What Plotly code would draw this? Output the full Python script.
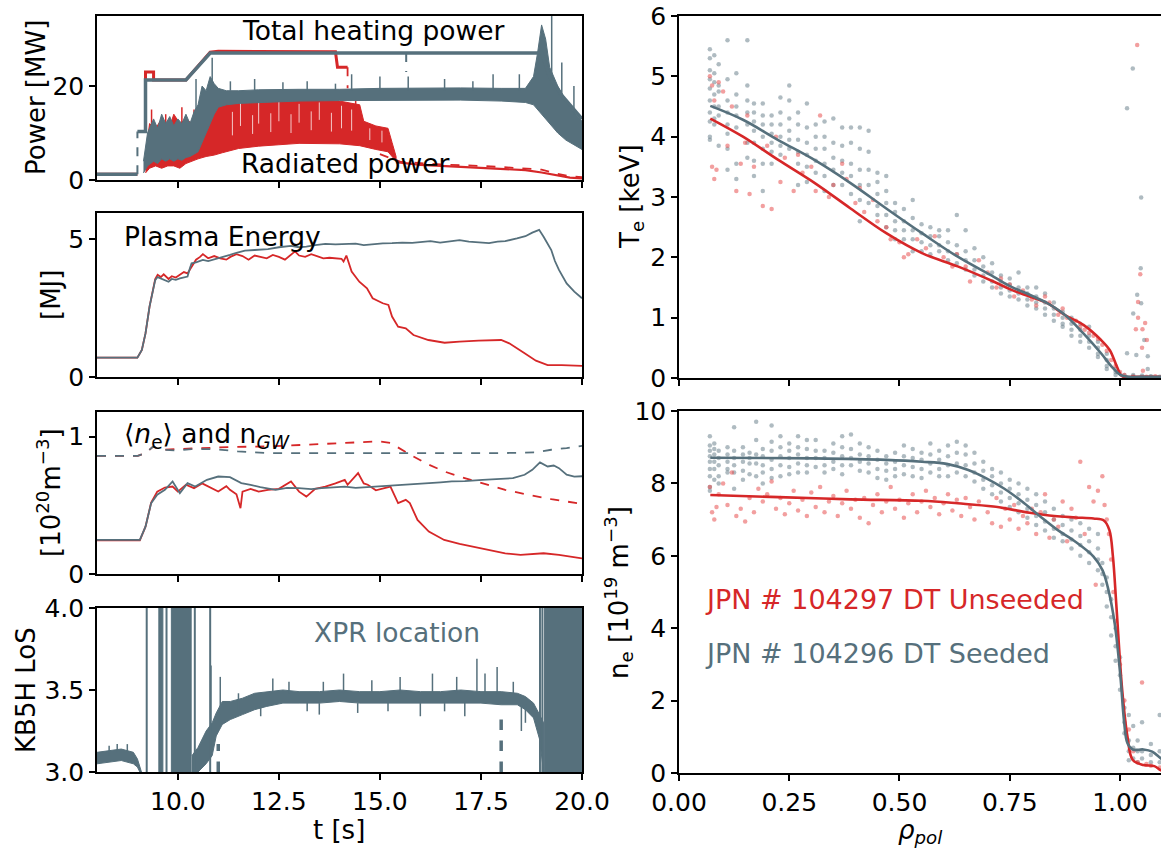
import plotly.graph_objects as go

GREY = "#56707C"
RED = "#D62728"
GREY_DOT = "rgba(110,132,142,0.55)"
RED_DOT = "rgba(232,80,80,0.55)"
FONT = "DejaVu Sans"

# ---------------- Power panel ----------------
grey_tot_t = [8.0, 9.0, None, 9.0, 9.2, 9.2, 10.2, 10.8, 18.85, 19.0, 19.2, 19.5, 20.0]
grey_tot_p = [1.2, 1.2, None, 10.3, 10.3, 21.3, 21.3, 27.0, 27.0, 27.0, 22.0, 18.0, 13.0]
grey_tot_dash_t = [9.0, 9.0, None, 15.65, 15.65]
grey_tot_dash_p = [1.2, 10.3, None, 27.0, 23.0]
red_tot_t = [8.0, 9.0, None, 9.2, 9.2, 9.4, 9.4, 10.2, 10.8, 11.0, 13.9, 13.95, 14.2]
red_tot_p = [1.2, 1.2, None, 10.3, 23.0, 23.0, 21.3, 21.3, 27.2, 27.4, 27.3, 24.0, 24.0]
red_dash_t = [14.2, 14.2, None, 15.0, 15.5, 16.5, 17.5, 18.5, 19.0, 19.4, 19.7, 20.0]
red_dash_p = [24.0, 19.5, None, 5.5, 3.9, 3.3, 3.0, 2.5, 2.2, 1.3, 0.8, 0.6]
red_rad_tail_t = [15.4, 16.0, 17.0, 18.0, 18.6, 19.0, 19.4, 19.7, 20.0]
red_rad_tail_p = [3.8, 3.2, 2.8, 2.4, 2.1, 1.6, 0.9, 0.5, 0.35]

grey_rad_t = [9.15, 9.25, 9.4, 9.5, 9.6, 9.7, 9.8, 9.9, 10.0, 10.1, 10.2, 10.3, 10.4, 10.5, 10.6, 10.7,
              10.8, 10.9, 11.0, 11.2, 11.5, 12.0, 13.0, 14.0, 15.0, 16.0, 17.0, 18.0, 18.6, 18.8, 18.9,
              19.0, 19.1, 19.2, 19.4, 19.6, 19.8, 20.0]
grey_rad_lo = [1.5, 3.0, 4.0, 3.5, 4.5, 4.0, 4.5, 4.0, 4.5, 4.2, 4.8, 5.0, 5.5, 6.0, 8.0, 10.0,
               12.0, 14.0, 15.5, 16.0, 16.3, 16.5, 16.8, 16.9, 17.0, 17.0, 17.0, 16.8, 16.5, 16.0, 15.0,
               14.0, 13.0, 12.0, 10.0, 8.5, 7.5, 6.5]
grey_rad_hi = [4.0, 10.0, 13.0, 11.0, 14.0, 12.0, 13.5, 11.5, 13.0, 12.0, 14.0, 12.0, 14.5, 16.0, 20.0, 19.0,
               22.0, 20.5, 19.5, 19.0, 19.0, 19.2, 19.3, 19.3, 19.5, 19.6, 19.6, 19.5, 19.5, 22.0, 27.0,
               33.0, 30.0, 24.0, 20.0, 17.0, 14.5, 12.5]
grey_spk_t = [10.45, 10.85, 11.3, 11.9, 12.6, 13.2, 13.9, 14.3, 15.0, 15.7, 16.6, 17.3, 17.8, 18.45, 19.25, 19.5, 19.8]
grey_spk_lo = [14, 20, 19, 19, 19, 19, 19, 19, 19, 19, 19, 19, 19, 19, 20, 17, 14]
grey_spk_hi = [21.5, 26, 21, 21.5, 20.8, 21.0, 20.5, 22.5, 22.0, 22.0, 21.5, 21.0, 22.5, 22.5, 35, 25, 20]

red_rad_t = [9.2, 9.3, 9.45, 9.6, 9.75, 9.9, 10.05, 10.2, 10.35, 10.5, 10.7, 10.9, 11.1, 11.3, 11.5,
             12.0, 12.5, 13.0, 13.5, 14.0, 14.5, 14.6, 14.9, 15.2, 15.3, 15.4]
red_rad_lo = [1.5, 2.5, 3.0, 2.5, 3.0, 3.0, 2.5, 3.5, 4.0, 4.5, 5.0, 5.3, 5.8, 6.3, 6.7,
              7.2, 7.5, 7.8, 7.8, 7.7, 7.3, 7.0, 6.5, 6.0, 5.0, 4.0]
red_rad_hi = [5.0, 12.0, 11.0, 13.0, 10.0, 14.0, 12.0, 13.0, 12.0, 14.0, 15.0, 16.0, 16.5, 17.0, 17.3,
              17.5, 17.5, 17.3, 17.0, 16.8, 16.0, 12.5, 11.5, 11.0, 8.0, 5.0]
red_spk_t = [9.35, 9.7, 10.1, 10.4, 11.8, 12.6, 13.4, 14.4]
red_spk_lo = [10, 10, 11, 12, 15, 16, 16, 14]
red_spk_hi = [15, 14, 15.5, 15, 18.2, 18.3, 18.0, 17.8]
# white streaks inside the red radiated band (gaps between the noisy samples)
red_gap_t = [11.35, 11.55, 11.85, 12.0, 12.3, 12.5, 12.8, 13.0, 13.3, 13.5, 13.8, 14.05, 14.3, 14.75, 15.05]
red_gap_lo = [9.5, 11.5, 9.8, 12.0, 10.2, 12.5, 10.0, 12.2, 10.6, 12.8, 10.3, 11.0, 10.5, 8.5, 8.0]
red_gap_hi = [14.5, 16.5, 13.8, 16.8, 14.2, 16.6, 14.0, 16.2, 14.6, 16.5, 14.3, 15.8, 15.0, 11.0, 10.5]

# ---------------- Plasma energy ----------------
w_grey_t = [8.0, 9.0, 9.11, 9.2, 9.3, 9.44, 9.5, 9.58, 9.65, 9.77, 9.85, 9.95, 10.05, 10.15, 10.24, 10.3,
            10.34, 10.45, 10.62, 10.75, 10.91, 11.1, 11.29, 11.45, 11.66, 11.9, 12.23, 12.5, 12.8, 13.0,
            13.18, 13.4, 13.65, 13.9, 14.13, 14.4, 14.6, 14.85, 15.07, 15.3, 15.55, 15.8, 16.02, 16.25,
            16.49, 16.7, 16.97, 17.2, 17.44, 17.7, 17.91, 18.1, 18.39, 18.6, 18.77, 18.94, 19.05, 19.15,
            19.24, 19.33, 19.43, 19.62, 19.81, 20.0]
w_grey = [0.70, 0.70, 0.98, 1.58, 2.55, 3.51, 3.62, 3.57, 3.50, 3.45, 3.55, 3.52, 3.57, 3.60, 3.64, 3.95,
          4.12, 4.15, 4.24, 4.20, 4.26, 4.35, 4.42, 4.50, 4.58, 4.60, 4.63, 4.70, 4.75, 4.70,
          4.72, 4.78, 4.82, 4.80, 4.81, 4.83, 4.78, 4.82, 4.84, 4.85, 4.87, 4.86, 4.90, 4.92,
          4.87, 4.90, 4.96, 4.90, 4.87, 4.85, 4.90, 4.92, 5.02, 5.10, 5.23, 5.33, 5.08, 4.85,
          4.60, 4.20, 3.88, 3.39, 3.09, 2.85]
w_red_t = [8.0, 9.0, 9.11, 9.2, 9.3, 9.44, 9.5, 9.58, 9.65, 9.77, 9.85, 9.95, 10.05, 10.15, 10.24, 10.34,
           10.45, 10.55, 10.62, 10.75, 10.9, 11.05, 11.2, 11.3, 11.45, 11.6, 11.75, 11.9, 12.05, 12.2,
           12.35, 12.5, 12.65, 12.8, 12.9, 13.0, 13.15, 13.3, 13.45, 13.6, 13.75, 13.9, 14.05, 14.1,
           14.17, 14.3, 14.49, 14.68, 14.82, 15.07, 15.21, 15.3, 15.45, 15.64, 15.83, 16.2, 16.6,
           16.97, 17.44, 18.0, 18.2, 18.58, 18.86, 19.15, 19.5, 20.0]
w_red = [0.70, 0.70, 0.98, 1.58, 2.55, 3.55, 3.70, 3.62, 3.72, 3.55, 3.65, 3.60, 3.70, 3.80, 3.75, 4.00,
         4.25, 4.35, 4.45, 4.30, 4.38, 4.30, 4.25, 4.35, 4.45, 4.38, 4.25, 4.40, 4.35, 4.30,
         4.42, 4.35, 4.25, 4.45, 4.55, 4.40, 4.35, 4.45, 4.38, 4.30, 4.32, 4.30, 4.28, 4.18,
         4.40, 3.82, 3.45, 3.21, 2.85, 2.67, 2.61, 2.19, 1.82, 1.76, 1.52, 1.34, 1.24,
         1.28, 1.32, 1.34, 1.22, 0.86, 0.59, 0.43, 0.43, 0.40]

# ---------------- Density ----------------
n_grey_t = [8.0, 9.06, 9.2, 9.34, 9.49, 9.68, 9.87, 10.05, 10.24, 10.43, 10.72, 11.0, 11.29, 11.57, 11.8,
            12.04, 12.42, 12.7, 12.99, 13.3, 13.56, 13.85, 14.13, 14.4, 14.7, 15.07, 15.35, 15.64, 15.9,
            16.21, 16.5, 16.78, 17.1, 17.54, 17.91, 18.29, 18.58, 18.77, 18.96, 19.15, 19.3, 19.43, 19.62,
            19.81, 20.0]
n_grey = [0.248, 0.248, 0.345, 0.516, 0.577, 0.613, 0.674, 0.589, 0.662, 0.637, 0.686, 0.710, 0.705, 0.662, 0.650,
          0.633, 0.613, 0.628, 0.625, 0.618, 0.625, 0.632, 0.637, 0.628, 0.633, 0.642, 0.648, 0.650, 0.655,
          0.662, 0.668, 0.674, 0.676, 0.686, 0.693, 0.698, 0.723, 0.759, 0.813, 0.783, 0.79, 0.771, 0.723,
          0.710, 0.712]
n_red_t = [8.0, 9.06, 9.2, 9.34, 9.49, 9.68, 9.87, 10.0, 10.2, 10.4, 10.6, 10.8, 11.0, 11.2, 11.29, 11.45,
           11.55, 11.6, 11.8, 12.0, 12.23, 12.5, 12.8, 13.0, 13.18, 13.4, 13.65, 13.9, 14.13, 14.2, 14.46,
           14.6, 14.7, 14.9, 15.07, 15.26, 15.45, 15.64, 15.74, 15.93, 16.21, 16.59, 16.97, 17.54, 18.1,
           18.48, 19.05, 19.43, 20.0]
n_red = [0.245, 0.245, 0.345, 0.520, 0.600, 0.630, 0.637, 0.600, 0.650, 0.625, 0.660, 0.630, 0.601, 0.640, 0.613, 0.580,
         0.479, 0.600, 0.620, 0.600, 0.613, 0.620, 0.674, 0.600, 0.564, 0.620, 0.637, 0.660, 0.686, 0.650, 0.735,
         0.660, 0.650, 0.610, 0.625, 0.637, 0.516, 0.540, 0.516, 0.394, 0.309, 0.248, 0.219, 0.187, 0.151,
         0.139, 0.151, 0.139, 0.114]
ngw_grey_t = [8.0, 9.01, 9.2, 9.39, 9.58, 9.96, 10.34, 10.91, 11.48, 12.23, 14.0, 16.0, 17.91, 18.86, 19.24, 19.62, 20.0]
ngw_grey = [0.861, 0.861, 0.880, 0.929, 0.905, 0.900, 0.910, 0.910, 0.893, 0.880, 0.880, 0.880, 0.880, 0.886, 0.905, 0.917, 0.934]
ngw_red_t = [8.0, 9.01, 9.2, 9.39, 9.58, 10.34, 11.29, 12.23, 13.18, 14.13, 14.98, 15.26, 15.54, 15.83, 16.21,
             16.59, 16.97, 17.54, 18.1, 18.67, 19.24, 20.0]
ngw_red = [0.861, 0.861, 0.880, 0.929, 0.905, 0.915, 0.925, 0.929, 0.942, 0.954, 0.966, 0.954, 0.905, 0.856, 0.796,
           0.747, 0.710, 0.662, 0.613, 0.577, 0.545, 0.511]

# ---------------- XPR location ----------------
xpr_t = [8.0, 8.3, 8.6, 8.9, 9.0, 9.1]
xpr_lo = [3.05, 3.06, 3.07, 3.05, 3.03, 2.98]
xpr_hi = [3.12, 3.13, 3.14, 3.12, 3.08, 3.00]
xpr2_t = [10.35, 10.5, 10.7, 10.85, 10.95, 11.1, 11.3, 11.6, 11.9, 12.2, 12.6, 13.0, 13.5, 14.0, 14.5, 15.0,
          15.5, 16.0, 16.5, 17.0, 17.5, 18.0, 18.4, 18.6, 18.8, 18.95, 19.05]
xpr2_lo = [2.98, 3.00, 3.05, 3.10, 3.22, 3.29, 3.32, 3.35, 3.38, 3.40, 3.42, 3.42, 3.42, 3.43, 3.42, 3.42,
           3.42, 3.42, 3.42, 3.42, 3.42, 3.41, 3.41, 3.38, 3.33, 3.20, 3.00]
xpr2_hi = [3.10, 3.15, 3.25, 3.30, 3.36, 3.43, 3.43, 3.45, 3.48, 3.49, 3.50, 3.49, 3.49, 3.50, 3.49, 3.49,
           3.50, 3.49, 3.49, 3.50, 3.49, 3.49, 3.48, 3.46, 3.42, 3.35, 3.30]
xpr_spk_t = [8.3, 8.5, 8.75, 10.82, 11.05, 11.5, 12.05, 12.35, 12.75, 13.2, 13.5, 13.6, 14.1, 14.45, 14.8, 15.2,
             15.5, 16.0, 16.3, 16.6, 16.9, 17.1, 17.4, 17.6, 17.9, 18.3, 18.5, 18.6]
xpr_spk_lo = [3.10, 3.12, 3.12, 3.25, 3.35, 3.38, 3.40, 3.48, 3.48, 3.42, 3.42, 3.48, 3.48, 3.42, 3.48, 3.42,
              3.48, 3.42, 3.48, 3.42, 3.48, 3.42, 3.48, 3.48, 3.48, 3.48, 3.40, 3.41]
xpr_spk_hi = [3.16, 3.17, 3.17, 3.65, 3.58, 3.48, 3.34, 3.57, 3.55, 3.37, 3.35, 3.55, 3.60, 3.36, 3.56, 3.37,
              3.58, 3.34, 3.60, 3.37, 3.58, 3.34, 3.69, 3.60, 3.64, 3.55, 3.25, 3.30]
xpr_full_t = [9.23, 9.72, 10.42, 10.8, 18.96, 19.02]
xpr_block_start = [9.53, 9.84, 19.07]
xpr_block_end = [9.63, 10.33, 20.0]
xpr_mark_t = [11.0, 18.0]
xpr_mark_top = [3.17, 3.36]

# ---------------- Te profiles ----------------
te_fit_grey_r = [0.071, 0.145, 0.226, 0.308, 0.389, 0.470, 0.551, 0.632, 0.713, 0.754, 0.795, 0.835, 0.876,
                 0.917, 0.957, 0.981, 1.001, 1.02, 1.06, 1.1]
te_fit_grey = [4.51, 4.28, 3.94, 3.61, 3.23, 2.81, 2.40, 2.01, 1.68, 1.51, 1.38, 1.24, 1.04,
               0.74, 0.41, 0.19, 0.05, 0.02, 0.02, 0.02]
te_fit_red_r = [0.071, 0.145, 0.226, 0.308, 0.389, 0.470, 0.551, 0.632, 0.713, 0.754, 0.795, 0.835, 0.876,
                0.917, 0.957, 0.977, 0.993, 1.005, 1.03, 1.1]
te_fit_red = [4.30, 4.00, 3.61, 3.23, 2.81, 2.40, 2.07, 1.85, 1.60, 1.46, 1.35, 1.24, 1.04,
              0.88, 0.63, 0.46, 0.19, 0.03, 0.02, 0.02]
te_grey_cols = {
    0.07: [5.45, 5.3, 5.1, 4.95, 4.8, 4.6, 4.4, 4.25, 4.0, 3.95],
    0.08: [5.35, 5.05, 4.9, 4.7, 4.5, 4.3, 4.2],
    0.09: [5.2, 4.85, 4.75, 4.5, 4.35, 3.85],
    0.11: [5.6, 4.95, 4.6, 4.4, 4.2, 4.05, 3.8, 3.45],
    0.13: [5.05, 4.7, 4.5, 4.35, 4.15, 3.55, 3.3],
    0.155: [5.6, 4.85, 4.6, 4.4, 4.2, 3.9, 3.65],
    0.17: [4.55, 4.4, 4.25, 4.1, 3.9, 3.6, 3.35],
    0.19: [4.55, 4.35, 4.2, 4.0, 3.8, 3.55, 3.1],
    0.21: [4.35, 4.2, 4.05, 3.9, 3.75, 3.55],
    0.23: [4.65, 4.4, 4.2, 4.0, 3.85, 3.7],
    0.25: [4.85, 4.6, 4.3, 4.1, 3.95, 3.8],
    0.27: [4.4, 4.2, 3.95, 3.75, 3.55, 3.2],
    0.29: [4.55, 4.15, 3.9, 3.7, 3.5, 3.25],
    0.31: [4.2, 4.0, 3.8, 3.6, 3.4],
    0.33: [4.25, 4.0, 3.8, 3.55, 3.35, 3.1],
    0.35: [4.3, 3.9, 3.65, 3.45, 3.2],
    0.37: [4.15, 3.85, 3.6, 3.4, 3.2],
    0.39: [4.15, 3.9, 3.55, 3.35, 3.05],
    0.41: [4.15, 3.8, 3.45, 3.2, 2.95, 2.6],
    0.43: [4.1, 3.75, 3.45, 3.2, 2.9],
    0.45: [3.4, 3.25, 3.05, 2.85, 2.7],
    0.47: [3.35, 3.1, 2.9, 2.7, 2.5],
    0.49: [2.9, 2.75, 2.6, 2.45, 2.3],
    0.51: [2.8, 2.6, 2.45, 2.3],
    0.53: [2.95, 2.65, 2.45, 2.3, 2.1],
    0.55: [2.55, 2.4, 2.25, 2.1],
    0.57: [2.5, 2.35, 2.2, 2.05],
    0.59: [2.45, 2.35, 2.2, 2.1],
    0.61: [2.45, 2.25, 2.1, 1.95],
    0.63: [2.7, 2.2, 2.05, 1.9],
    0.65: [2.45, 2.1, 1.95, 1.8],
    0.67: [2.15, 1.95, 1.8, 1.7],
    0.69: [2.0, 1.85, 1.7, 1.6],
    0.71: [1.9, 1.75, 1.6, 1.5],
    0.73: [1.7, 1.6, 1.5, 1.4],
    0.75: [1.65, 1.55, 1.45, 1.35],
    0.77: [1.75, 1.5, 1.4, 1.3],
    0.79: [1.5, 1.4, 1.3, 1.2],
    0.81: [1.5, 1.35, 1.25, 1.15],
    0.83: [1.4, 1.25, 1.15, 1.05],
    0.85: [1.25, 1.15, 1.05, 0.95],
    0.87: [1.1, 1.0, 0.9, 0.85],
    0.89: [1.0, 0.9, 0.8, 0.7],
    0.91: [0.9, 0.8, 0.7, 0.6],
    0.93: [0.85, 0.7, 0.6, 0.5],
    0.95: [0.6, 0.5, 0.4, 0.35],
    0.97: [0.4, 0.3, 0.2, 0.15],
    0.99: [0.15, 0.1, 0.05],
    1.01: [0.05, 0.02],
    1.03: [0.03, 0.01, 0.05],
    1.05: [0.02, 0.04],
    1.07: [0.02, 0.03],
    1.09: [0.02],
}
te_grey_out_r = [1.016, 1.029, 1.048, 1.047, 1.039, 1.030, 1.048, 1.055, 1.016, 1.037, 1.063, 1.063]
te_grey_out = [4.47, 5.13, 2.99, 1.82, 1.38, 1.07, 1.24, 0.63, 0.41, 0.38, 0.36, 0.15]
te_red_r = [0.07, 0.075, 0.08, 0.075, 0.08, 0.085, 0.09, 0.10, 0.11, 0.12, 0.13, 0.14, 0.15, 0.155, 0.16, 0.17,
            0.19, 0.20, 0.21, 0.22, 0.23, 0.24, 0.26, 0.27, 0.28, 0.30, 0.31, 0.32, 0.34, 0.35, 0.37, 0.38,
            0.40, 0.41, 0.42, 0.44, 0.45, 0.47, 0.48, 0.50, 0.51, 0.52, 0.54, 0.56, 0.58, 0.60, 0.62, 0.63,
            0.65, 0.66, 0.68, 0.70, 0.72, 0.73, 0.75, 0.76, 0.78, 0.80, 0.81, 0.83, 0.84, 0.86, 0.87, 0.88,
            0.90, 0.91, 0.92, 0.93, 0.94, 0.95, 0.96, 0.97, 0.98, 0.99, 1.00, 1.01, 1.03, 1.06, 1.08,
            1.039, 1.046, 1.041, 1.041, 1.057, 1.036, 1.051, 1.050, 1.061, 1.052]
te_red = [5.0, 4.85, 4.6, 3.5, 3.3, 3.45, 4.9, 4.75, 3.85, 4.5, 3.1, 3.55, 3.9, 4.35, 3.05, 3.5,
          2.85, 3.85, 2.8, 4.0, 3.25, 3.65, 3.1, 3.7, 3.4, 3.5, 3.1, 4.35, 3.0, 3.2, 3.55, 3.3,
          2.9, 3.15, 2.75, 2.95, 2.6, 2.5, 2.3, 2.25, 2.0, 2.05, 2.3, 2.15, 2.35, 2.0, 1.85, 2.05,
          1.85, 1.6, 1.95, 1.75, 1.5, 1.65, 1.55, 1.35, 1.45, 1.3, 1.2, 1.35, 1.25, 1.05, 1.15, 1.0,
          0.95, 0.85, 0.8, 0.75, 0.7, 0.65, 0.55, 0.45, 0.3, 0.2, 0.1, 0.05, 0.02, 0.02, 0.03,
          5.52, 1.72, 1.26, 1.0, 0.91, 0.81, 0.81, 0.50, 0.63, 0.12]

# ---------------- ne profiles ----------------
ne_fit_grey_r = [0.071, 0.308, 0.470, 0.551, 0.607, 0.656, 0.697, 0.737, 0.778, 0.818, 0.859, 0.899, 0.940,
                 0.960, 0.972, 0.988, 1.001, 1.009, 1.017, 1.029, 1.053, 1.073, 1.092, 1.1]
ne_fit_grey = [8.71, 8.69, 8.65, 8.60, 8.54, 8.37, 8.14, 7.86, 7.50, 7.10, 6.71, 6.39, 5.98,
               5.61, 5.15, 4.13, 2.66, 1.46, 0.82, 0.65, 0.65, 0.59, 0.41, 0.35]
ne_fit_red_r = [0.071, 0.226, 0.389, 0.551, 0.632, 0.713, 0.795, 0.851, 0.899, 0.940, 0.964, 0.976, 0.984,
                0.992, 1.005, 1.017, 1.029, 1.053, 1.078, 1.092, 1.1]
ne_fit_red = [7.68, 7.62, 7.56, 7.52, 7.45, 7.36, 7.19, 7.10, 7.06, 7.03, 6.97, 6.71, 5.98,
              4.59, 2.29, 1.00, 0.36, 0.22, 0.19, 0.08, 0.05]
ne_grey_cols = {
    0.07: [9.3, 9.05, 8.9, 8.75, 8.6, 8.4, 8.2, 7.9, 7.8],
    0.08: [9.1, 8.95, 8.8, 8.6, 8.4, 8.1],
    0.09: [8.9, 8.7, 8.5, 8.2, 8.0],
    0.11: [9.0, 8.8, 8.6, 8.4, 8.3],
    0.125: [9.55, 8.9, 8.7, 8.5, 8.3, 7.85],
    0.145: [9.0, 8.8, 8.6, 8.35, 8.1],
    0.16: [8.85, 8.7, 8.55, 8.25],
    0.175: [9.7, 9.2, 8.8, 8.55, 8.2],
    0.19: [8.95, 8.75, 8.5, 8.3, 8.0],
    0.21: [9.6, 9.15, 8.9, 8.65, 8.4, 8.15],
    0.23: [9.3, 9.0, 8.75, 8.5, 8.2],
    0.25: [9.1, 8.9, 8.7, 8.45, 8.25],
    0.27: [9.3, 9.0, 8.8, 8.55, 8.3],
    0.29: [9.2, 8.95, 8.7, 8.5, 8.3],
    0.31: [9.2, 8.9, 8.7, 8.45],
    0.33: [8.9, 8.7, 8.5, 8.3],
    0.35: [9.1, 8.85, 8.6, 8.4],
    0.37: [9.3, 9.0, 8.75, 8.5, 8.25],
    0.39: [9.35, 8.95, 8.7, 8.5],
    0.41: [9.1, 8.8, 8.6, 8.35],
    0.43: [9.0, 8.75, 8.55, 8.3],
    0.45: [8.9, 8.65, 8.4, 8.15],
    0.47: [8.75, 8.55, 8.35, 8.1],
    0.49: [8.85, 8.6, 8.4, 8.2],
    0.51: [9.05, 8.75, 8.5, 8.25],
    0.53: [8.95, 8.7, 8.45, 8.2],
    0.55: [8.85, 8.65, 8.4, 8.15],
    0.57: [9.1, 8.8, 8.55, 8.3],
    0.59: [8.9, 8.65, 8.4, 8.2],
    0.61: [9.05, 8.75, 8.5, 8.2],
    0.63: [9.15, 8.85, 8.55, 8.3],
    0.65: [9.05, 8.8, 8.5, 8.2],
    0.67: [8.85, 8.55, 8.3, 8.05],
    0.69: [8.6, 8.35, 8.1, 7.85],
    0.71: [8.4, 8.2, 7.95, 7.7],
    0.73: [8.3, 8.0, 7.75, 7.5],
    0.75: [8.1, 7.85, 7.6, 7.35],
    0.77: [8.0, 7.7, 7.45, 7.2],
    0.79: [7.85, 7.55, 7.3, 7.05],
    0.81: [7.7, 7.4, 7.1, 6.85],
    0.83: [7.5, 7.2, 6.95, 6.7],
    0.85: [7.3, 7.0, 6.75, 6.5],
    0.87: [7.1, 6.85, 6.6, 6.4],
    0.89: [7.0, 6.7, 6.45, 6.2],
    0.91: [6.9, 6.55, 6.3, 6.0],
    0.93: [6.75, 6.4, 6.1, 5.8],
    0.95: [6.6, 6.2, 5.9, 5.6],
    0.96: [5.8, 5.5, 5.2],
    0.97: [5.4, 5.0, 4.6],
    0.98: [4.8, 4.3, 3.8],
    0.99: [4.0, 3.5, 3.1],
    1.00: [3.2, 2.7, 2.3],
    1.01: [1.8, 1.4, 1.1],
    1.02: [1.6, 0.9, 0.6, 0.35],
    1.03: [1.3, 0.7, 0.4],
    1.04: [0.9, 0.6, 0.3],
    1.05: [1.4, 0.6, 0.4],
    1.07: [0.8, 0.5, 0.3],
    1.09: [1.6, 0.6, 0.3],
}
ne_red_r = [0.07, 0.075, 0.08, 0.085, 0.09, 0.10, 0.11, 0.12, 0.13, 0.14, 0.15, 0.16, 0.17, 0.18, 0.19, 0.20,
            0.21, 0.22, 0.23, 0.24, 0.25, 0.26, 0.27, 0.28, 0.29, 0.30, 0.31, 0.32, 0.33, 0.34, 0.35, 0.36,
            0.37, 0.38, 0.39, 0.40, 0.41, 0.42, 0.43, 0.44, 0.45, 0.46, 0.47, 0.48, 0.49, 0.50, 0.51, 0.52,
            0.53, 0.54, 0.55, 0.56, 0.57, 0.58, 0.59, 0.60, 0.61, 0.62, 0.63, 0.64, 0.65, 0.66, 0.67, 0.68,
            0.70, 0.71, 0.72, 0.73, 0.74, 0.75, 0.76, 0.77, 0.78, 0.79, 0.80, 0.81, 0.82, 0.83, 0.84, 0.85,
            0.86, 0.87, 0.88, 0.89, 0.90, 0.91, 0.92, 0.93, 0.94, 0.945, 0.95, 0.96, 0.965, 0.97, 0.975,
            0.98, 0.985, 0.99, 1.00, 1.01, 1.02, 1.03, 1.04, 1.05, 1.06, 1.07, 1.09]
ne_red = [7.9, 7.2, 7.0, 7.35, 7.7, 8.0, 7.4, 8.3, 7.1, 7.3, 6.95, 7.6, 7.2, 7.85, 7.5, 7.7,
          8.05, 7.3, 7.6, 7.15, 7.45, 7.8, 7.25, 7.55, 7.1, 7.75, 7.35, 7.9, 7.2, 7.5, 7.65, 7.1,
          7.45, 7.8, 7.3, 7.55, 7.05, 7.6, 6.9, 7.4, 7.7, 7.2, 7.5, 7.9, 7.3, 7.55, 7.05, 7.45,
          7.7, 7.2, 7.5, 7.8, 7.35, 7.6, 7.15, 7.45, 7.7, 7.25, 7.55, 7.1, 7.6, 7.35, 7.0, 7.5,
          7.2, 6.9, 7.6, 6.8, 7.3, 7.0, 7.4, 6.75, 7.1, 6.9, 7.3, 6.6, 7.2, 7.7, 6.5, 7.0,
          6.8, 7.5, 6.4, 7.3, 7.05, 8.6, 6.6, 7.9, 7.5, 5.2, 7.8, 8.2, 7.4, 7.0, 6.6,
          5.9, 5.0, 4.2, 3.0, 2.0, 1.2, 0.6, 0.3, 2.5, 0.25, 0.2, 0.15]


def spikes(ts, lo, hi):
    xs, ys = [], []
    for t, a, b in zip(ts, lo, hi):
        xs += [t, t, None]
        ys += [a, b, None]
    return xs, ys


def band(ts, lo, hi):
    return list(ts) + list(ts[::-1]), list(hi) + list(lo[::-1])


def flatten(cols):
    xs, ys = [], []
    for r, vals in cols.items():
        for v in vals:
            xs.append(r)
            ys.append(v)
    return xs, ys


fig = go.Figure()


def add(ax, **kw):
    xa = "x" if ax == 1 else "x%d" % ax
    ya = "y" if ax == 1 else "y%d" % ax
    fig.add_trace(go.Scatter(xaxis=xa, yaxis=ya, showlegend=False, hoverinfo="skip", **kw))


# Power panel
bx, by = band(red_rad_t, red_rad_lo, red_rad_hi)
add(1, x=bx, y=by, mode="lines", fill="toself", fillcolor=RED, line=dict(color=RED, width=1))
sx, sy = spikes(red_gap_t, red_gap_lo, red_gap_hi)
add(1, x=sx, y=sy, mode="lines", line=dict(color="rgba(255,255,255,0.75)", width=1.0))
sx, sy = spikes(red_spk_t, red_spk_lo, red_spk_hi)
add(1, x=sx, y=sy, mode="lines", line=dict(color=RED, width=1.5))
bx, by = band(grey_rad_t, grey_rad_lo, grey_rad_hi)
add(1, x=bx, y=by, mode="lines", fill="toself", fillcolor=GREY, line=dict(color=GREY, width=1))
sx, sy = spikes(grey_spk_t, grey_spk_lo, grey_spk_hi)
add(1, x=sx, y=sy, mode="lines", line=dict(color=GREY, width=1.5))
add(1, x=red_tot_t, y=red_tot_p, mode="lines", line=dict(color=RED, width=3))
add(1, x=red_dash_t, y=red_dash_p, mode="lines", line=dict(color=RED, width=1.8, dash="dash"))
add(1, x=red_rad_tail_t, y=red_rad_tail_p, mode="lines", line=dict(color=RED, width=2.2))
add(1, x=grey_tot_t, y=grey_tot_p, mode="lines", line=dict(color=GREY, width=3.5))
add(1, x=grey_tot_dash_t, y=grey_tot_dash_p, mode="lines", line=dict(color=GREY, width=2, dash="dash"))

# Energy
add(2, x=w_red_t, y=w_red, mode="lines", line=dict(color=RED, width=1.8))
add(2, x=w_grey_t, y=w_grey, mode="lines", line=dict(color=GREY, width=1.8))

# Density
add(3, x=ngw_red_t, y=ngw_red, mode="lines", line=dict(color=RED, width=1.8, dash="dash"))
add(3, x=ngw_grey_t, y=ngw_grey, mode="lines", line=dict(color=GREY, width=1.8, dash="dash"))
add(3, x=n_red_t, y=n_red, mode="lines", line=dict(color=RED, width=1.8))
add(3, x=n_grey_t, y=n_grey, mode="lines", line=dict(color=GREY, width=1.8))

# XPR
bx, by = band(xpr_t, xpr_lo, xpr_hi)
add(4, x=bx, y=by, mode="lines", fill="toself", fillcolor=GREY, line=dict(color=GREY, width=1))
bx, by = band(xpr2_t, xpr2_lo, xpr2_hi)
add(4, x=bx, y=by, mode="lines", fill="toself", fillcolor=GREY, line=dict(color=GREY, width=1))
sx, sy = spikes(xpr_spk_t, xpr_spk_lo, xpr_spk_hi)
add(4, x=sx, y=sy, mode="lines", line=dict(color=GREY, width=1.5))
sx, sy = spikes(xpr_full_t, [2.9] * len(xpr_full_t), [4.1] * len(xpr_full_t))
add(4, x=sx, y=sy, mode="lines", line=dict(color=GREY, width=2))
blk_x, blk_y = [], []
for a, b in zip(xpr_block_start, xpr_block_end):
    blk_x += [a, b, b, a, a, None]
    blk_y += [3.0, 3.0, 4.0, 4.0, 3.0, None]
add(4, x=blk_x, y=blk_y, mode="lines", fill="toself", fillcolor=GREY, line=dict(color=GREY, width=1))
sx, sy = spikes(xpr_mark_t, [3.0] * len(xpr_mark_t), xpr_mark_top)
add(4, x=sx, y=sy, mode="lines", line=dict(color=GREY, width=3.5, dash="dash"))

# Te
gx, gy = flatten(te_grey_cols)
add(5, x=gx + te_grey_out_r, y=gy + te_grey_out, mode="markers", marker=dict(color=GREY_DOT, size=4.5))
add(5, x=te_red_r, y=te_red, mode="markers", marker=dict(color=RED_DOT, size=4.5))
add(5, x=te_fit_red_r, y=te_fit_red, mode="lines", line=dict(color=RED, width=2.6, shape="spline"))
add(5, x=te_fit_grey_r, y=te_fit_grey, mode="lines", line=dict(color=GREY, width=2.6, shape="spline"))

# ne
gx, gy = flatten(ne_grey_cols)
add(6, x=gx, y=gy, mode="markers", marker=dict(color=GREY_DOT, size=4.5))
add(6, x=ne_red_r, y=ne_red, mode="markers", marker=dict(color=RED_DOT, size=4.5))
add(6, x=ne_fit_red_r, y=ne_fit_red, mode="lines", line=dict(color=RED, width=2.6, shape="spline"))
add(6, x=ne_fit_grey_r, y=ne_fit_grey, mode="lines", line=dict(color=GREY, width=2.6, shape="spline"))

W, H = 1161, 848


def px(v):
    return v / W


def py(v):
    return 1 - v / H


base = dict(showline=True, linecolor="black", linewidth=1.6, ticks="outside", ticklen=6, tickwidth=1.6,
            tickcolor="black", showgrid=False, zeroline=False, automargin=False,
            tickfont=dict(size=25, color="black", family=FONT))

left_dom = [px(97), px(582)]
right_dom = [px(679), 1.0]
ydoms = {1: (16, 180), 2: (213, 377), 3: (412, 574), 4: (608, 772), 5: (16, 378), 6: (411, 773)}
yranges = {1: [0, 34.9], 2: [0, 5.94], 3: [0, 1.18], 4: [3, 4], 5: [0, 6], 6: [0, 10]}
yticks = {1: [0, 20], 2: [0, 5], 3: [0, 1], 4: [3.0, 3.5, 4.0], 5: [0, 1, 2, 3, 4, 5, 6], 6: [0, 2, 4, 6, 8, 10]}
ytext = {1: ["0", "20"], 2: ["0", "5"], 3: ["0", "1"], 4: ["3.0", "3.5", "4.0"],
         5: [str(v) for v in yticks[5]], 6: [str(v) for v in yticks[6]]}

layout = dict(width=W, height=H, margin=dict(l=0, r=0, t=0, b=0, pad=0), paper_bgcolor="white",
              plot_bgcolor="white", font=dict(family=FONT, size=25, color="black"))
for i in range(1, 7):
    xk = "xaxis" if i == 1 else "xaxis%d" % i
    yk = "yaxis" if i == 1 else "yaxis%d" % i
    ya = "y" if i == 1 else "y%d" % i
    xa = "x" if i == 1 else "x%d" % i
    if i <= 4:
        layout[xk] = dict(base, domain=left_dom, anchor=ya, range=[8, 20], mirror=True,
                          tickvals=[10, 12.5, 15, 17.5, 20], ticktext=["10.0", "12.5", "15.0", "17.5", "20.0"],
                          showticklabels=(i == 4))
        ymirror = True
    else:
        layout[xk] = dict(base, domain=right_dom, anchor=ya, range=[0, 1.093], mirror=True,
                          tickvals=[0, 0.25, 0.5, 0.75, 1.0], ticktext=["0.00", "0.25", "0.50", "0.75", "1.00"],
                          showticklabels=(i == 6))
        ymirror = False
    a, b = ydoms[i]
    layout[yk] = dict(base, domain=[py(b), py(a)], anchor=xa, range=yranges[i], mirror=ymirror,
                      tickvals=yticks[i], ticktext=ytext[i])

ann = []


def note(text, x, y, color="black", size=26, angle=0, xanchor="center", xref="paper", yref="paper"):
    ann.append(dict(text=text, x=x, y=y, xref=xref, yref=yref, showarrow=False, textangle=angle,
                    xanchor=xanchor, yanchor="middle", font=dict(family=FONT, size=size, color=color)))


note("Power [MW]", px(36), py(98), angle=-90)
note("[MJ]", px(51), py(295), angle=-90)
note("[10<sup>20</sup>m<sup>−3</sup>]", px(49), py(493), angle=-90)
note("KB5H LoS", px(26), py(690), angle=-90)
note("t [s]", px(339), py(830))
note("T<sub>e</sub> [keV]", px(632), py(197), angle=-90)
note("n<sub>e</sub> [10<sup>19</sup> m<sup>−3</sup>]", px(618), py(593), angle=-90)
note("<i>ρ<sub>pol</sub></i>", px(920), py(831))

note("Total heating power", 14.83, 31.9, xref="x", yref="y", size=26.5)
note("Radiated power", 14.14, 3.6, xref="x", yref="y", size=26.5)
note("Plasma Energy", 8.62, 5.1, xanchor="left", xref="x2", yref="y2", size=26.5)
note("⟨<i>n</i><sub>e</sub>⟩ and n<sub><i>GW</i></sub>", 8.62, 1.01, xanchor="left", xref="x3", yref="y3", size=26.5)
note("XPR location", 15.43, 3.85, color=GREY, xref="x4", yref="y4", size=26.5)
note("JPN # 104297 DT Unseeded", 0.054, 4.8, color=RED, xanchor="left", xref="x6", yref="y6", size=27)
note("JPN # 104296 DT Seeded", 0.054, 3.3, color=GREY, xanchor="left", xref="x6", yref="y6", size=27)

layout["annotations"] = ann
fig.update_layout(**layout)
fig.write_html("out.html")
